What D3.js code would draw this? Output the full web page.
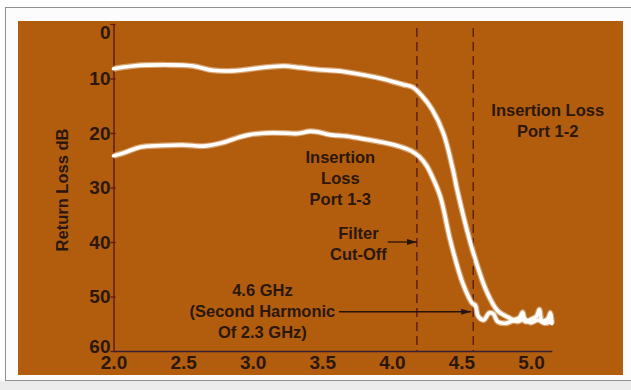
<!DOCTYPE html>
<html>
<head>
<meta charset="utf-8">
<script src="https://cdn.jsdelivr.net/npm/d3@7/dist/d3.min.js"></script>
<style>
  html, body { margin: 0; padding: 0; background: #ffffff; }
  svg { display: block; }
  .lbl { font-family: "Liberation Sans", Arial, sans-serif; font-weight: bold; fill: #2b170b; }
</style>
</head>
<body>
<svg id="visframe" width="631" height="390"></svg>
<script>
// tick values
var freqTicks = [2.0, 2.5, 3.0, 3.5, 4.0, 4.5, 5.0];
var dbTicks = [0, 10, 20, 30, 40, 50, 60];

// upper trace
var upperFreq = [2.0, 2.14, 2.38, 2.57, 2.71, 2.86, 3.0, 3.22, 3.34, 3.48, 3.65, 3.89, 3.94, 4.08, 4.15, 4.22, 4.29, 4.37, 4.44, 4.47, 4.58, 4.68, 4.76, 4.85, 4.9, 4.95, 5.0, 5.05, 5.1, 5.15];
var upperDb   = [8.2, 7.7, 7.5, 7.7, 8.5, 8.6, 8.2, 7.7, 8.0, 8.4, 8.7, 9.8, 10.1, 11.1, 11.6, 13.3, 15.7, 20.0, 26.8, 30.5, 41.5, 49.0, 52.6, 54.0, 54.6, 54.2, 54.8, 54.3, 54.9, 54.5];

// lower trace
var lowerFreq = [2.0, 2.08, 2.19, 2.35, 2.5, 2.65, 2.78, 2.9, 2.98, 3.1, 3.22, 3.32, 3.41, 3.47, 3.55, 3.68, 3.82, 3.95, 4.06, 4.14, 4.2, 4.25, 4.29, 4.35, 4.42, 4.51, 4.58, 4.6, 4.62, 4.66, 4.7, 4.73, 4.76, 4.82, 4.88, 4.92, 4.94, 4.96, 5.0, 5.04, 5.06, 5.08, 5.12, 5.14, 5.15];
var lowerDb   = [24.2, 23.6, 22.6, 22.3, 22.2, 22.4, 21.8, 20.8, 20.3, 20.0, 20.0, 20.1, 19.7, 19.8, 20.3, 20.6, 21.2, 21.8, 22.5, 23.3, 24.4, 26.0, 28.0, 31.8, 39.7, 47.6, 51.3, 51.6, 53.6, 54.3, 53.0, 53.2, 54.6, 54.9, 54.3, 53.8, 52.9, 54.6, 54.2, 53.6, 52.4, 54.5, 54.1, 53.0, 55.0];

// marker lines (GHz)
var cutoffFreq = 4.18;
var harmonicFreq = 4.585;

// annotations: anchor (GHz, dB) of the first line
var notes = [
    {f: 5.12, db: 15.8, lines: ["Insertion Loss", "Port 1-2"]},
    {f: 3.63, db: 24.4, lines: ["Insertion", "Loss", "Port 1-3"]},
    {f: 3.76, db: 38.3, lines: ["Filter", "Cut-Off"]},
    {f: 3.07, db: 48.8, lines: ["4.6 GHz", "(Second Harmonic", "Of 2.3 GHz)"]}
];
var arrows = [
    {f0: 3.97, f1: cutoffFreq, db: 40.0},
    {f0: 3.62, f1: 4.57, db: 52.8}
];

var panel = {x: 18, y: 21, w: 605, h: 354};
var plot = {left: 113.5, right: 531, top: 24, bottom: 351};
var orange = "#b25d0e";
var ink = "#28150a";
var axisInk = "#5c1c10";

var svg = d3.select("#visframe");

// page frame
svg.append("rect").attr("x", 0).attr("y", 381).attr("width", 631).attr("height", 9).attr("fill", "#ececec");
svg.append("rect")
    .attr("x", 5.5).attr("y", 7.5).attr("width", 640).attr("height", 373)
    .attr("fill", "#fcfcfc").attr("stroke", "#8f8f8f").attr("stroke-width", 1);

svg.append("rect")
    .attr("x", panel.x).attr("y", panel.y)
    .attr("width", panel.w).attr("height", panel.h)
    .attr("fill", orange);

var x = d3.scaleLinear().domain([2, 5]).range([plot.left, plot.right]);
var y = d3.scaleLinear().domain([0, 60]).range([plot.top, plot.bottom]);

// dashed marker lines
[cutoffFreq, harmonicFreq].forEach(function(f){
    svg.append("line")
        .attr("x1", x(f)).attr("x2", x(f))
        .attr("y1", panel.y + 7).attr("y2", y(60))
        .attr("stroke", axisInk).attr("stroke-width", 1.4)
        .attr("stroke-dasharray", "9,5");
});

// axes
var yAxis = svg.append("g")
    .attr("transform", "translate(" + x(2) + ",0)")
    .call(d3.axisLeft(y).tickValues(dbTicks).tickFormat(d3.format("d"))
        .tickSizeInner(3).tickSizeOuter(0).tickPadding(0));
yAxis.select(".domain").attr("stroke", axisInk).attr("stroke-width", 1.5);
yAxis.selectAll(".tick line").attr("x1", 2).attr("stroke", axisInk).attr("stroke-width", 1.3);
yAxis.selectAll(".tick text")
    .attr("class", "lbl").style("font-size", "19px").attr("fill", ink)
    // the printed 0 and 60 labels sit a little inside the end ticks
    .attr("transform", function(d){ return d === 0 ? "translate(0,8)" : d === 60 ? "translate(0,-5)" : null; });

var xEnd = 5.15;
var xAxis = svg.append("g")
    .attr("transform", "translate(0," + y(60) + ")")
    .call(d3.axisBottom(d3.scaleLinear().domain([2, xEnd]).range([x(2), x(xEnd)]))
        .tickValues(freqTicks).tickFormat(d3.format(".1f"))
        .tickSize(0).tickPadding(5));
xAxis.select(".domain").attr("stroke", "#3a2030").attr("stroke-width", 1.5);
xAxis.selectAll(".tick text")
    .attr("class", "lbl").style("font-size", "19px").attr("fill", ink);

// axis title
svg.append("text")
    .attr("class", "lbl")
    .attr("transform", "translate(62,190) rotate(-90)")
    .attr("text-anchor", "middle").attr("dy", "0.35em")
    .style("font-size", "16.5px")
    .text("Return Loss dB");

// traces
var line = d3.line()
    .x(function(d){ return x(d[0]); })
    .y(function(d){ return y(d[1]); })
    .curve(d3.curveCatmullRom.alpha(0.5));

[[upperFreq, upperDb], [lowerFreq, lowerDb]].forEach(function(s){
    var pts = d3.zip(s[0], s[1]);
    svg.append("path").datum(pts).attr("d", line)
        .attr("fill", "none").attr("stroke", "#fff6e6").attr("stroke-opacity", 0.45)
        .attr("stroke-width", 6).attr("stroke-linejoin", "round");
    svg.append("path").datum(pts).attr("d", line)
        .attr("fill", "none").attr("stroke", "#ffffff")
        .attr("stroke-width", 3.6).attr("stroke-linejoin", "round").attr("stroke-linecap", "round");
});

// arrows
svg.append("defs").append("marker")
    .attr("id", "arrowhead")
    .attr("viewBox", "0 0 10 6").attr("refX", 10).attr("refY", 3)
    .attr("markerWidth", 10).attr("markerHeight", 6)
    .attr("markerUnits", "userSpaceOnUse").attr("orient", "auto")
    .append("path").attr("d", "M0,0 L10,3 L0,6 Z").attr("fill", ink);

arrows.forEach(function(a){
    svg.append("line")
        .attr("x1", x(a.f0)).attr("x2", x(a.f1))
        .attr("y1", y(a.db)).attr("y2", y(a.db))
        .attr("stroke", ink).attr("stroke-width", 1.3)
        .attr("marker-end", "url(#arrowhead)");
});

// annotation text
notes.forEach(function(n){
    var t = svg.append("text")
        .attr("class", "lbl")
        .attr("text-anchor", "middle")
        .style("font-size", "16.5px");
    n.lines.forEach(function(s, i){
        t.append("tspan")
            .attr("x", x(n.f))
            .attr("y", y(n.db) + i * 21)
            .attr("dy", "0.35em")
            .text(s);
    });
});
</script>
</body>
</html>
